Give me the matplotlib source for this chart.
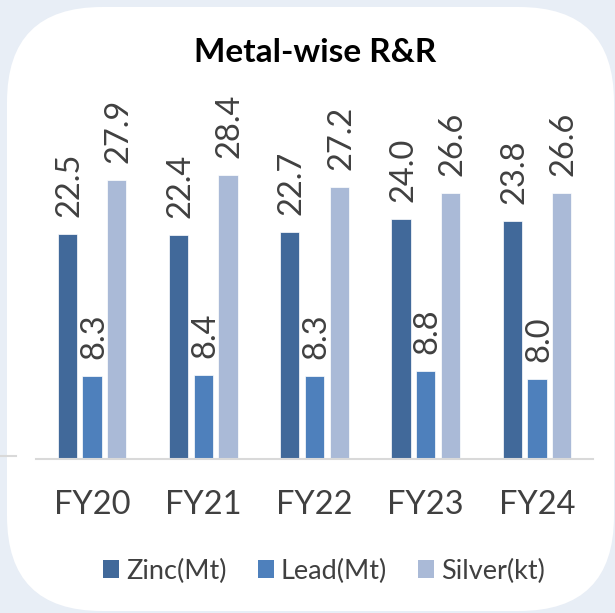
import matplotlib
matplotlib.use("Agg")
import matplotlib.pyplot as plt
import numpy as np
from matplotlib.patches import FancyBboxPatch, Patch
from matplotlib.lines import Line2D

plt.rcParams['font.family'] = ['Lato', 'DejaVu Sans']

categories = ["FY20", "FY21", "FY22", "FY23", "FY24"]
zinc = [22.5, 22.4, 22.7, 24.0, 23.8]
lead = [8.3, 8.4, 8.3, 8.8, 8.0]
silver = [27.9, 28.4, 27.2, 26.6, 26.6]
series_names = ["Zinc(Mt)", "Lead(Mt)", "Silver(kt)"]
series_colors = ["#41699A", "#4E80BC", "#AABAD7"]
title = "Metal-wise R&R"

W, H = 615, 613
fig = plt.figure(figsize=(W / 100, H / 100), dpi=100)
fig.patch.set_facecolor("#E8EEF6")

# rounded white panel
panel = FancyBboxPatch((0.07, 0.02), 6.07, 6.04,
                       boxstyle="round,pad=0,rounding_size=0.95",
                       transform=fig.dpi_scale_trans,
                       facecolor="white", edgecolor="none", zorder=0)
fig.add_artist(panel)
fig.add_artist(Line2D([0, 16 / W], [1 - 456 / H, 1 - 456 / H],
                      color="#D9D9D9", lw=1.5, transform=fig.transFigure))

ax = fig.add_axes([36.5 / W, 154 / H, 556 / W, 350 / H])
ax.set_facecolor("none")

x = np.arange(len(categories))
bw = 0.173
step = 0.222
text_color = "#404040"
fs = 23.5
for i, (vals, col) in enumerate(zip([zinc, lead, silver], series_colors)):
    pos = x + (i - 1) * step
    ax.bar(pos, vals, width=bw, color=col, edgecolor="white",
           linewidth=0.5, zorder=2)
    for p, v in zip(pos, vals):
        ax.annotate(f"{v:.1f}", xy=(p, v), xytext=(2, 17),
                    textcoords="offset pixels", rotation=90,
                    ha="center", va="bottom", fontsize=fs, color=text_color)

ax.set_xlim(-0.5, 4.5)
ax.set_ylim(0, 35)
ax.set_xticks(x)
ax.set_xticklabels(categories, fontsize=fs, color=text_color)
ax.tick_params(axis="x", length=0, pad=22)
ax.set_yticks([])
for s in ["top", "left", "right"]:
    ax.spines[s].set_visible(False)
ax.spines["bottom"].set_color("#D9D9D9")
ax.spines["bottom"].set_linewidth(1.5)

fig.text(315.5 / W, 1 - 62 / H, title, ha="center", va="baseline",
         fontsize=24, fontweight="bold", color="black")

handles = [Patch(facecolor=c, edgecolor="none") for c in series_colors]
fig.legend(handles, series_names, loc="center",
           bbox_to_anchor=(324 / W, 42 / H), ncol=3, frameon=False,
           fontsize=19.5, labelcolor=text_color, handlelength=0.59,
           handleheight=0.59, handletextpad=0.26, columnspacing=1.15)

fig.savefig("out.png", dpi=100, facecolor=fig.get_facecolor())
